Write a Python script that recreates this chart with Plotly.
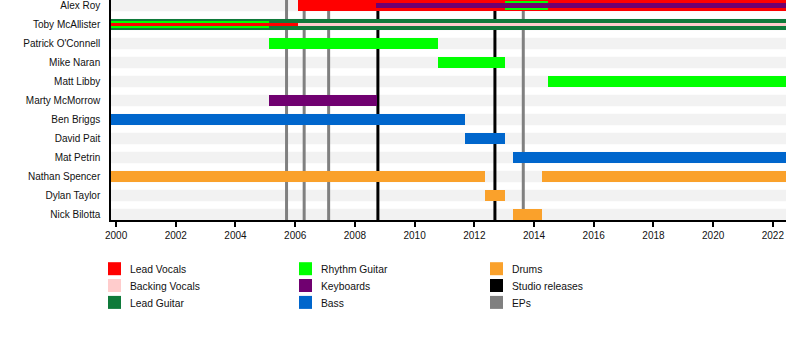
import plotly.graph_objects as go

# ---------------- data ----------------
members = ["Alex Roy", "Toby McAllister", "Patrick O'Connell", "Mike Naran",
           "Matt Libby", "Marty McMorrow", "Ben Briggs", "David Pait",
           "Mat Petrin", "Nathan Spencer", "Dylan Taylor", "Nick Bilotta"]

START = 1999.83
END = 2022.44

lead_vocals = [("Alex Roy", 2006.10, END), ("Toby McAllister", START, 2006.10)]
backing_vocals = [("Toby McAllister", 2006.10, END)]
lead_guitar = [("Toby McAllister", START, END)]
rhythm_guitar = [("Toby McAllister", START, 2005.12), ("Alex Roy", 2013.02, 2014.48),
                 ("Patrick O'Connell", 2005.12, 2010.77), ("Mike Naran", 2010.77, 2013.02),
                 ("Matt Libby", 2014.48, END)]
keyboards = [("Alex Roy", 2008.72, END), ("Marty McMorrow", 2005.12, 2008.74)]
bass = [("Ben Briggs", START, 2011.69), ("David Pait", 2011.69, 2013.02),
        ("Mat Petrin", 2013.31, END)]
drums = [("Nathan Spencer", START, 2012.36), ("Nathan Spencer", 2014.25, END),
         ("Dylan Taylor", 2012.36, 2013.02), ("Nick Bilotta", 2013.31, 2014.25)]

studio_releases = [2008.77, 2012.69]
ep_releases = [2005.71, 2006.30, 2007.12, 2013.64]

tick_years = list(range(2000, 2023, 2))

# ---------------- styles ----------------
COLORS = {
    "Lead Vocals": "#FF0000",
    "Backing Vocals": "#FFCCCC",
    "Lead Guitar": "#0F7A3A",
    "Rhythm Guitar": "#00FF00",
    "Keyboards": "#700070",
    "Bass": "#0066CC",
    "Drums": "#FAA12B",
    "Studio releases": "#000000",
    "EPs": "#808080",
}
roles = [("Lead Guitar", lead_guitar), ("Lead Vocals", lead_vocals),
         ("Backing Vocals", backing_vocals), ("Rhythm Guitar", rhythm_guitar),
         ("Keyboards", keyboards), ("Bass", bass), ("Drums", drums)]
DEFAULT_W = 0.6
WIDTHS = {
    ("Alex Roy", "Rhythm Guitar"): 0.43,
    ("Alex Roy", "Keyboards"): 0.26,
    ("Toby McAllister", "Rhythm Guitar"): 0.35,
    ("Toby McAllister", "Lead Vocals"): 0.18,
    ("Toby McAllister", "Backing Vocals"): 0.18,
}
FONT = "Liberation Sans, Arial, sans-serif"

L, R, T, B = 111, 14, 0, 120
W, H = 800, 340
PW, PH = W - L - R, H - T - B
Y_RANGE = [11.29, -0.29]


def px_x(p):
    return (p - L) / PW


def px_y(p):
    return (PH + T - p) / PH


fig = go.Figure()

# bars: sorted by width descending so narrower bars sit on top
segments = []
for role, segs in roles:
    for m, s, e in segs:
        segments.append((WIDTHS.get((m, role), DEFAULT_W), role, m, s, e))
segments.sort(key=lambda t: -t[0])
for w, role, m, s, e in segments:
    fig.add_trace(go.Bar(
        x=[e - s], base=[s], y=[members.index(m)], orientation="h",
        width=w, marker=dict(color=COLORS[role], line=dict(width=0)),
        showlegend=False, hoverinfo="skip"))

shapes = []
# light background bands per member
for i, m in enumerate(members):
    shapes.append(dict(type="rect", xref="x", yref="y", x0=START, x1=END,
                       y0=i - DEFAULT_W / 2, y1=i + DEFAULT_W / 2,
                       fillcolor="#F2F2F2", line=dict(width=0), layer="below"))
# release lines (above bands, below bars)
for yr in ep_releases:
    shapes.append(dict(type="line", xref="x", yref="y", x0=yr, x1=yr,
                       y0=Y_RANGE[0], y1=Y_RANGE[1],
                       line=dict(color=COLORS["EPs"], width=3), layer="below"))
for yr in studio_releases:
    shapes.append(dict(type="line", xref="x", yref="y", x0=yr, x1=yr,
                       y0=Y_RANGE[0], y1=Y_RANGE[1],
                       line=dict(color=COLORS["Studio releases"], width=3), layer="below"))

# custom legend (3 columns x 3 rows)
legend_cols = [["Lead Vocals", "Backing Vocals", "Lead Guitar"],
               ["Rhythm Guitar", "Keyboards", "Bass"],
               ["Drums", "Studio releases", "EPs"]]
col_x = [108, 299, 490]
row_y = [268.7, 285.5, 302.4]
annotations = []
for ci, col in enumerate(legend_cols):
    for ri, name in enumerate(col):
        x0 = col_x[ci]
        yc = row_y[ri]
        shapes.append(dict(type="rect", xref="paper", yref="paper",
                           x0=px_x(x0), x1=px_x(x0 + 13),
                           y0=px_y(yc + 6.5), y1=px_y(yc - 6.5),
                           fillcolor=COLORS[name], line=dict(width=0)))
        annotations.append(dict(xref="paper", yref="paper", x=px_x(x0 + 20), y=px_y(yc + 0.8),
                                text=name, showarrow=False, xanchor="left",
                                yanchor="middle",
                                font=dict(family=FONT, size=10.3, color="#111")))

fig.update_layout(
    width=W, height=H, margin=dict(l=L, r=R, t=T, b=B),
    barmode="overlay", bargap=0,
    plot_bgcolor="white", paper_bgcolor="white",
    shapes=shapes, annotations=annotations, showlegend=False,
    xaxis=dict(range=[START, END], tickvals=tick_years, ticktext=[str(y) for y in tick_years],
               ticks="outside", ticklen=5, tickwidth=1.5, tickcolor="black",
               showline=True, linecolor="black", linewidth=1.5,
               showgrid=False, zeroline=False,
               tickfont=dict(family=FONT, size=10, color="#111")),
    yaxis=dict(range=Y_RANGE, tickvals=list(range(len(members))), ticktext=members,
               ticks="", showline=True, linecolor="black", linewidth=1.5,
               showgrid=False, zeroline=False, ticklabelstandoff=7,
               tickfont=dict(family=FONT, size=10, color="#111")),
)

fig.write_html("out.html")
